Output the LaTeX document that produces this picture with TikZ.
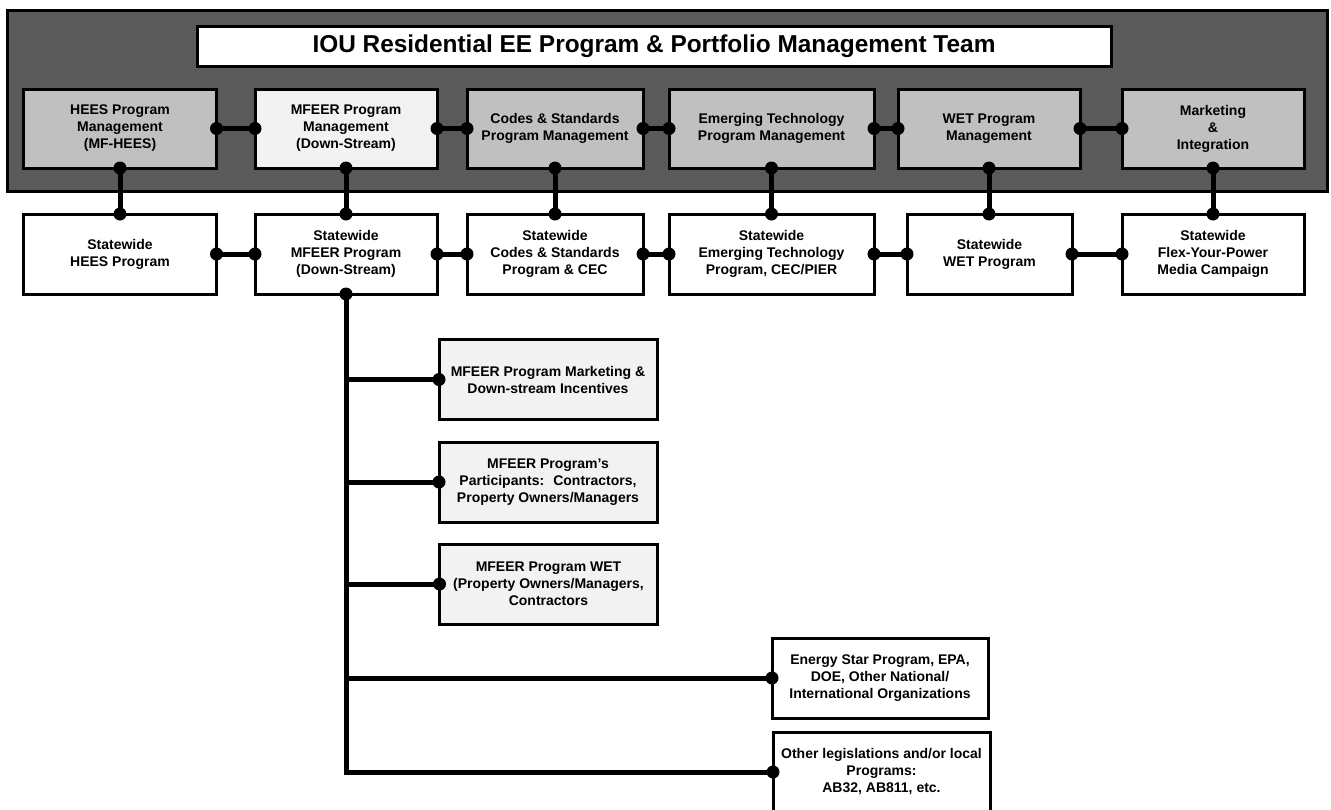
\documentclass[tikz,border=0pt]{standalone}
\usepackage{fontspec}
\setmainfont{Liberation Sans}
\definecolor{Panelgray}{RGB}{90,90,90}
\definecolor{Mgmtfill}{RGB}{192,192,192}
\definecolor{Lightfill}{RGB}{242,242,242}

\begin{document}
\begin{tikzpicture}[x=1pt,y=-1pt,line join=miter,
  box/.style={rectangle,draw,line width=3pt,outer sep=0pt,inner sep=2pt,align=center,
    font=\bfseries\fontsize{14}{17}\selectfont},
  mgmt/.style={box,fill=Mgmtfill,minimum height=79pt},
  state/.style={box,fill=white,minimum height=80pt},
  branch/.style={box,fill=Lightfill,minimum width=218pt,minimum height=80pt},
  conn/.style={line width=5pt},
  dot/.style={fill=black}]
\path[use as bounding box] (0,0) rectangle (1331,809);
% team panel
\draw[line width=3pt,fill=Panelgray] (7,10) rectangle (1327,191);
\node[box,fill=white,minimum width=914pt,minimum height=40pt,font=\bfseries\fontsize{24.4}{28}\selectfont] (team) at (654,46) {IOU Residential EE Program \& Portfolio Management Team};
% program management row
\node[mgmt,minimum width=193pt] (hees) at (120,128.5) {HEES Program\\Management\\(MF-HEES)};
\node[mgmt,fill=Lightfill,minimum width=182pt] (mfeer) at (346,128.5) {MFEER Program\\Management\\(Down-Stream)};
\node[mgmt,minimum width=176pt] (codes) at (555,128.5) {Codes \& Standards\\Program Management};
\node[mgmt,minimum width=205pt] (emerg) at (771.5,128.5) {Emerging Technology\\Program Management};
\node[mgmt,minimum width=182pt] (wet) at (989,128.5) {WET Program\\Management};
\node[mgmt,minimum width=182pt] (mkt) at (1213,128.5) {Marketing\\\&\\Integration};
% statewide row
\node[state,minimum width=193pt] (swhees) at (120,254) {Statewide\\HEES Program};
\node[state,minimum width=182pt] (swmfeer) at (346,254) {Statewide\\MFEER Program\\(Down-Stream)};
\node[state,minimum width=176pt] (swcodes) at (555,254) {Statewide\\Codes \& Standards\\Program \& CEC};
\node[state,minimum width=205pt] (swemerg) at (771.5,254) {Statewide\\Emerging Technology\\Program, CEC/PIER};
\node[state,minimum width=165pt] (swwet) at (989.5,254) {Statewide\\WET Program};
\node[state,minimum width=182pt] (swflex) at (1213,254) {Statewide\\Flex-Your-Power\\Media Campaign};
% MFEER branches
\node[branch] (incent) at (548,379.5) {MFEER Program Marketing \&\\Down-stream Incentives};
\node[branch] (partic) at (548,482) {MFEER Program’s\\Participants:~ Contractors,\\Property Owners/Managers};
\node[branch] (mfwet) at (548.5,584) {MFEER Program WET\\(Property Owners/Managers,\\Contractors};
\node[state,minimum width=216pt] (estar) at (880,678) {Energy Star Program, EPA,\\DOE, Other National/\\International Organizations};
\node[state,minimum width=217pt] (legis) at (881.5,772) {Other legislations and/or local\\Programs:\\AB32, AB811, etc.};
% horizontal links
\foreach \a/\b in {hees/mfeer,mfeer/codes,codes/emerg,emerg/wet,wet/mkt,
  swhees/swmfeer,swmfeer/swcodes,swcodes/swemerg,swemerg/swwet,swwet/swflex}{
  \draw[conn] (\a.east) -- (\b.west);
  \fill[dot] (\a.east) circle[radius=6.5pt] (\b.west) circle[radius=6.5pt];
}
% vertical links
\foreach \a/\b in {hees/swhees,mfeer/swmfeer,codes/swcodes,emerg/swemerg,wet/swwet,mkt/swflex}{
  \draw[conn] (\a.south) -- (\a.south |- \b.north);
  \fill[dot] (\a.south) circle[radius=6.5pt] (\a.south |- \b.north) circle[radius=6.5pt];
}
% trunk
\coordinate (trunkend) at (swmfeer.south |- legis.west);
\draw[conn] (swmfeer.south) -- (trunkend) -- (legis.west);
\fill[dot] (swmfeer.south) circle[radius=6.5pt] (legis.west) circle[radius=6.5pt];
\foreach \b in {incent,partic,mfwet,estar}{
  \draw[conn] (swmfeer.south |- \b.west) -- (\b.west);
  \fill[dot] (\b.west) circle[radius=6.5pt];
}
\end{tikzpicture}
\end{document}
